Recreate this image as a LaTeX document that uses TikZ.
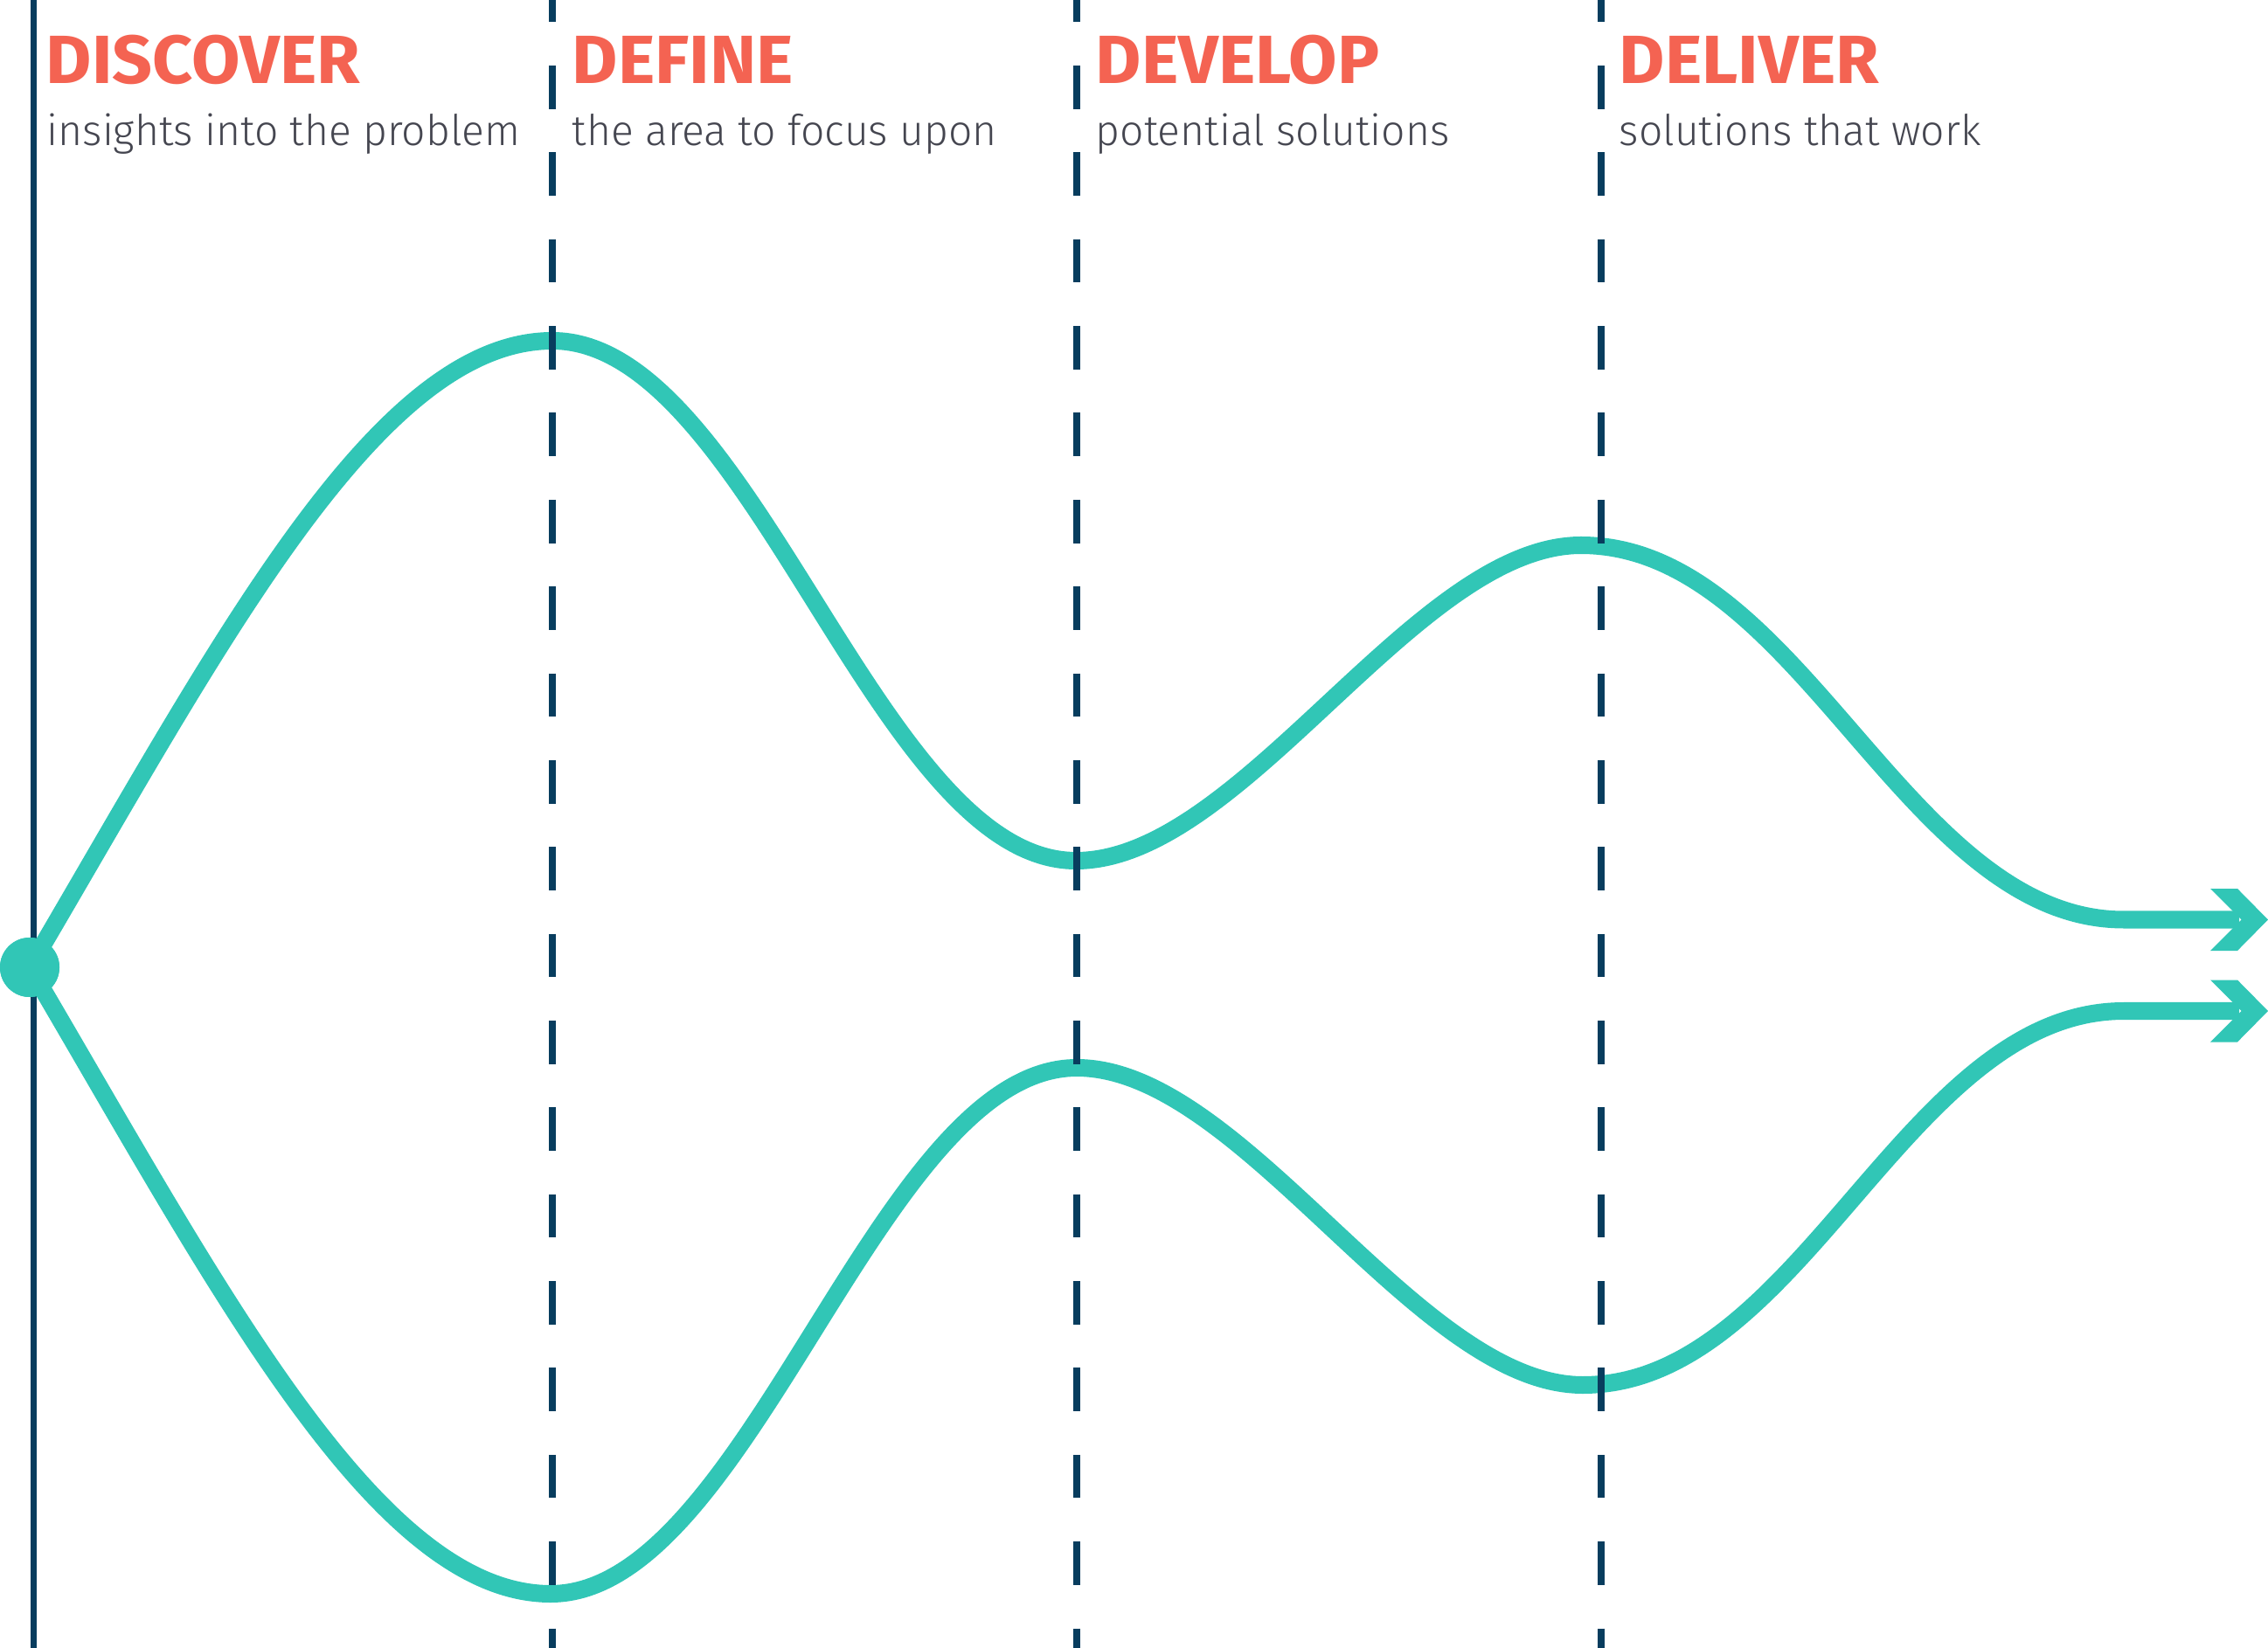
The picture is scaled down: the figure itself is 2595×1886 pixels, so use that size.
\documentclass[tikz,border=0pt]{standalone}
\usepackage{fontspec}
\newfontfamily\titlefont{Fira Sans}[FakeStretch=1.03]
\newfontfamily\bodyfont{Fira Sans Light}[FakeStretch=0.99]
\definecolor{flowteal}{HTML}{31C6B6}
\definecolor{gridnavy}{HTML}{083D5E}
\definecolor{headcoral}{HTML}{F46352}
\definecolor{bodygray}{HTML}{454650}
\tikzset{
  flow/.style={draw=flowteal, line width=0.2cm, line join=round},
  phase/.style={draw=gridnavy, line width=0.08cm, dash pattern=on 0.4965cm off 0.4965cm, dash phase=0.2430cm},
  baseline/.style={draw=gridnavy, line width=0.075cm},
  headline/.style={anchor=base west, inner sep=0pt, text=headcoral,
    font=\titlefont\bfseries\fontsize{22.2pt}{26pt}\selectfont},
  subline/.style={anchor=base west, inner sep=0pt, text=bodygray,
    font=\bodyfont\fontsize{13.8pt}{16pt}\selectfont},
  chevron/.style={fill=flowteal}
}
\begin{document}
\begin{tikzpicture}[x=0.01cm, y=-0.01cm]
  \useasboundingbox (0,0) rectangle (2595,1886);

  % left boundary of the process
  \coordinate (axtop) at (38.5,0);
  \coordinate (axbot) at (38.5,1886);
  \draw[baseline] (axtop) -- (axbot);

  % starting point and arrow ends
  \node[circle, fill=flowteal, inner sep=0pt, minimum size=0.68cm] (start) at (34,1107) {};
  \coordinate (endA) at (2562,1052.5);
  \coordinate (endB) at (2562,1157);

  % upper path
  \draw[flow] (start.center)
    .. controls (250,740) and (430,390) .. (632,390)
    .. controls (859,390) and (1004,985) .. (1231,985)
    .. controls (1421,985) and (1619,624) .. (1809,624)
    .. controls (2059,624) and (2180,1052.5) .. (2430,1052.5)
    -- (endA);

  % lower path
  \draw[flow] (start.center)
    .. controls (250,1474) and (430,1824) .. (630,1824)
    .. controls (857,1824) and (1005,1222) .. (1232,1222)
    .. controls (1422,1222) and (1621,1585) .. (1811,1585)
    .. controls (2061,1585) and (2180,1157) .. (2430,1157)
    -- (endB);

  % chevron heads
  \foreach \e in {endA,endB}{
    \fill[chevron, shift={(\e)}] (-33,-35.5) -- (-2,-35.5) -- (33,0) -- (-2,35.5) -- (-33,35.5) -- (2.5,0) -- cycle;
  }
  \fill[flowteal] (start) circle[radius=0.34cm];

  % phase separators
  \foreach \px/\nm in {632/a,1232/b,1832/c}{
    \coordinate (sep\nm top) at (\px,0);
    \coordinate (sep\nm bot) at (\px,1886);
    \draw[phase] (sep\nm top) -- (sep\nm bot);
  }

  % phase labels
  \node[headline] (discover) at (52,96) {DISCOVER};
  \node[subline] (discoversub) at (53,167) {insights into the problem};
  \node[headline] (define) at (654,96) {DEFINE};
  \node[subline] (definesub) at (654,167) {the area to focus upon};
  \node[headline] (develop) at (1253,96) {DEVELOP};
  \node[subline] (developsub) at (1253,167) {potential solutions};
  \node[headline] (deliver) at (1852,96) {DELIVER};
  \node[subline] (deliversub) at (1852,167) {solutions that work};
\end{tikzpicture}
\end{document}
